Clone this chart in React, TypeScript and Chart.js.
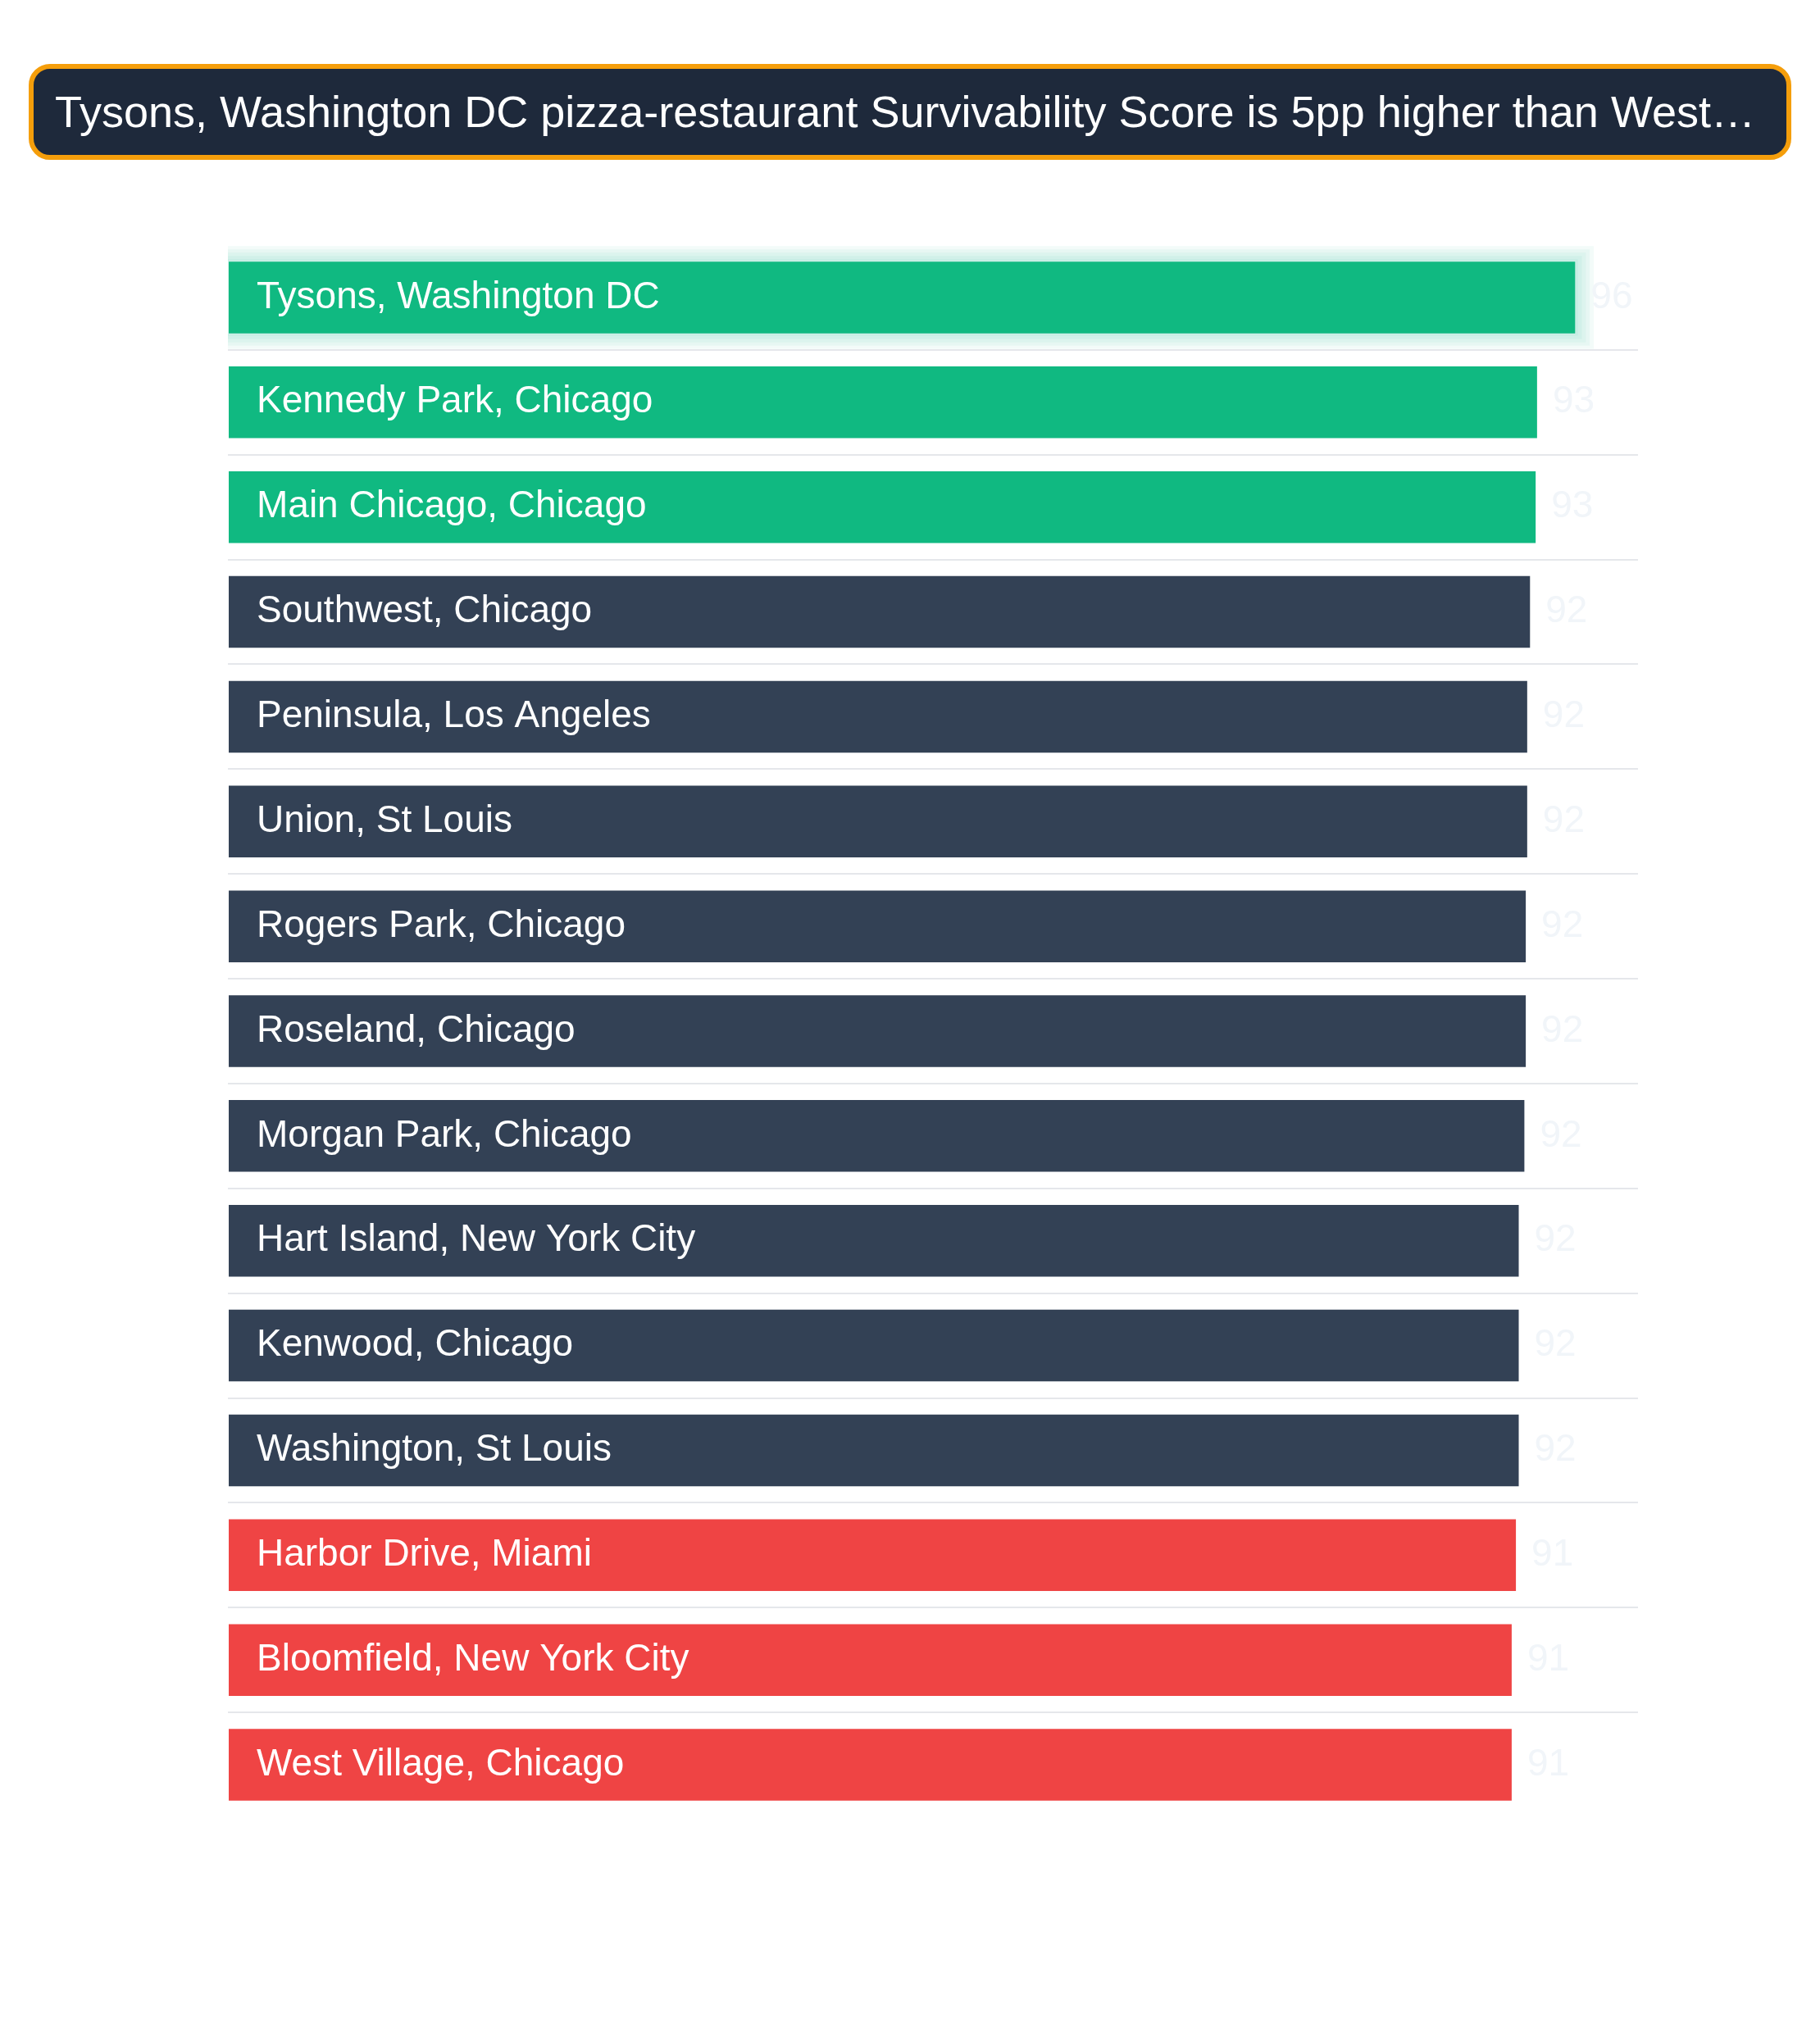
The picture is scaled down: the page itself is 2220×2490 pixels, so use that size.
import { useEffect, useRef } from 'react';
import Chart from 'chart.js/auto';

const titleText =
  'Tysons, Washington DC pizza-restaurant Survivability Score is 5pp higher than West…';

const neighbourhoods = [
  'Tysons, Washington DC',
  'Kennedy Park, Chicago',
  'Main Chicago, Chicago',
  'Southwest, Chicago',
  'Peninsula, Los Angeles',
  'Union, St Louis',
  'Rogers Park, Chicago',
  'Roseland, Chicago',
  'Morgan Park, Chicago',
  'Hart Island, New York City',
  'Kenwood, Chicago',
  'Washington, St Louis',
  'Harbor Drive, Miami',
  'Bloomfield, New York City',
  'West Village, Chicago',
];

const survivabilityScores = [
  95.6, 92.9, 92.8, 92.4, 92.2, 92.2, 92.1, 92.1, 92.0, 91.6, 91.6, 91.6, 91.4, 91.1, 91.1,
];

const FONT = '"Liberation Sans", Helvetica, Arial, sans-serif';
const GREEN = '#10b981';
const SLATE = '#334155';
const RED = '#ef4444';

function barColour(index: number, count: number) {
  if (index < 3) return GREEN;
  if (index >= count - 3) return RED;
  return SLATE;
}

// soft glow behind the leading bar
const glowPlugin = {
  id: 'leaderGlow',
  beforeDatasetsDraw(chart: any) {
    const bar = chart.getDatasetMeta(0).data[0];
    if (!bar) return;
    const { ctx } = chart;
    const h = bar.height;
    ctx.save();
    ctx.fillStyle = 'rgba(16, 185, 129, 0.05)';
    for (let pad = 18; pad > 0; pad -= 4) {
      ctx.fillRect(bar.base, bar.y - h / 2 - pad, bar.x - bar.base + pad * 1.2, h + pad * 2);
    }
    ctx.restore();
  },
};

// names inside the bars, faint values after them
const labelPlugin = {
  id: 'barLabels',
  afterDatasetsDraw(chart: any) {
    const { ctx } = chart;
    const meta = chart.getDatasetMeta(0);
    ctx.save();
    ctx.font = `46px ${FONT}`;
    ctx.textBaseline = 'middle';
    meta.data.forEach((bar: any, i: number) => {
      ctx.fillStyle = '#ffffff';
      ctx.textAlign = 'left';
      ctx.fillText(neighbourhoods[i], bar.base + 35, bar.y);
      ctx.fillStyle = '#f1f5f9';
      ctx.fillText(String(Math.round(survivabilityScores[i])), bar.x + 18, bar.y);
    });
    ctx.restore();
  },
};

function SurvivabilityChart() {
  const chartRef = useRef<HTMLCanvasElement | null>(null);
  const chartInstance = useRef<Chart | null>(null);

  useEffect(() => {
    if (!chartRef.current) return;
    if (chartInstance.current) chartInstance.current.destroy();

    const count = survivabilityScores.length;

    chartInstance.current = new Chart(chartRef.current, {
      type: 'bar',
      data: {
        labels: neighbourhoods,
        datasets: [
          {
            data: survivabilityScores,
            backgroundColor: (c: any) => barColour(c.dataIndex, count),
            borderColor: 'rgba(255, 255, 255, 0.25)',
            borderWidth: 1,
            borderSkipped: false,
            barPercentage: 0.7,
            categoryPercentage: 1,
          },
        ],
      },
      plugins: [glowPlugin, labelPlugin],
      options: {
        indexAxis: 'y',
        animation: false,
        responsive: true,
        maintainAspectRatio: false,
        layout: { padding: 0 },
        plugins: {
          legend: { display: false },
          tooltip: { enabled: false },
          title: { display: false },
        },
        scales: {
          x: {
            display: false,
            min: 0,
            max: 100,
          },
          y: {
            display: true,
            ticks: { display: false },
            border: { display: false },
            grid: {
              offset: true,
              drawTicks: false,
              lineWidth: 2,
              color: (c: any) =>
                c.index === undefined || c.index === 0 ? 'transparent' : '#e5e7eb',
            },
          },
        },
      },
    });

    return () => {
      if (chartInstance.current) {
        chartInstance.current.destroy();
        chartInstance.current = null;
      }
    };
  }, []);

  return (
    <div style={{ marginLeft: 243, marginTop: 104, width: 1720, height: 1918, position: 'relative' }}>
      <canvas ref={chartRef} />
    </div>
  );
}

export default function App() {
  return (
    <div style={{ padding: '0 27px', fontFamily: FONT }}>
      <div
        style={{
          marginTop: 70,
          height: 117,
          boxSizing: 'border-box',
          background: '#1e293b',
          border: '6px solid #f59e0b',
          borderRadius: 26,
          padding: '0 20px 0 26px',
          color: '#ffffff',
          fontSize: 54,
          lineHeight: '105px',
          whiteSpace: 'nowrap',
          overflow: 'hidden',
          textOverflow: 'ellipsis',
        }}
      >
        {titleText}
      </div>
      <SurvivabilityChart />
    </div>
  );
}
